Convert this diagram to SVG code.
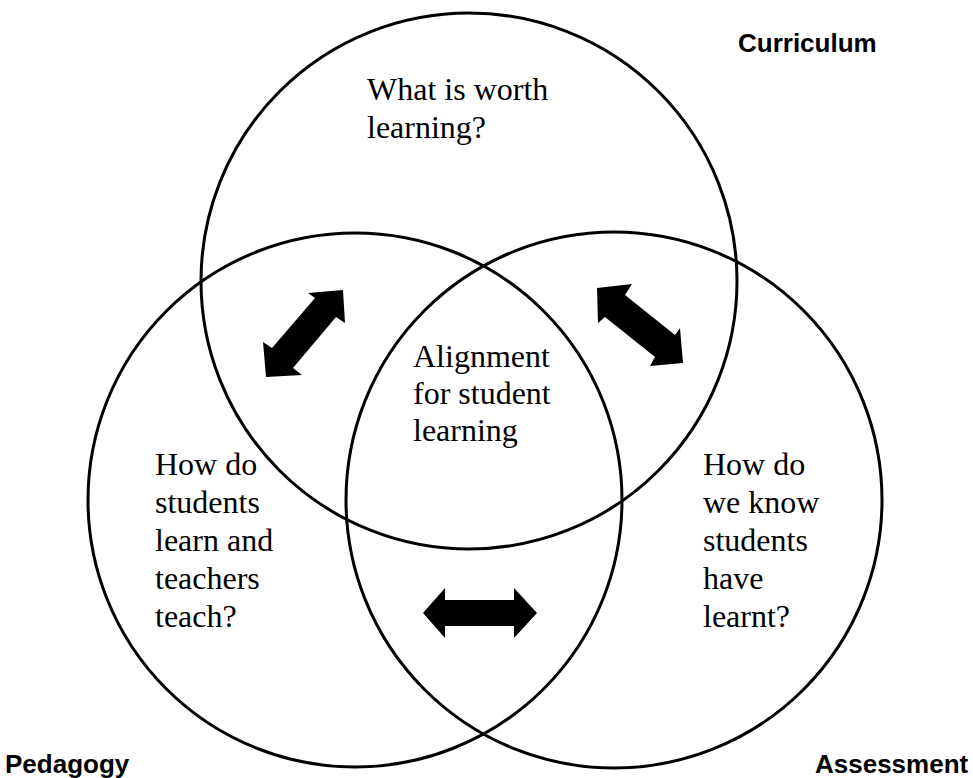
<svg xmlns="http://www.w3.org/2000/svg" width="973" height="778" viewBox="0 0 973 778">
<style>
.c{fill:none;stroke:#000;stroke-width:3}
.t{font-family:"Liberation Serif","Times New Roman",serif;font-size:32px;fill:#000}
.l{font-family:"Liberation Sans",Arial,sans-serif;font-size:26px;font-weight:bold;fill:#000}
.a{fill:#000;stroke:none}
</style>
<rect width="973" height="778" fill="#fff"/>
<g id="curriculum">
<circle class="c" cx="469" cy="281" r="268"/>
<text class="t" x="367" y="100">What is worth</text>
<text class="t" x="367" y="138">learning?</text>
<text class="l" x="738" y="52">Curriculum</text>
</g>
<g id="pedagogy">
<circle class="c" cx="355" cy="500" r="267"/>
<text class="t" x="155" y="475">How do</text>
<text class="t" x="155" y="513">students</text>
<text class="t" x="155" y="551">learn and</text>
<text class="t" x="155" y="589">teachers</text>
<text class="t" x="155" y="627">teach?</text>
<text class="l" x="5" y="773">Pedagogy</text>
</g>
<g id="assessment">
<circle class="c" cx="614" cy="500" r="268"/>
<text class="t" x="703" y="475">How do</text>
<text class="t" x="703" y="513">we know</text>
<text class="t" x="703" y="551">students</text>
<text class="t" x="703" y="589">have</text>
<text class="t" x="703" y="627">learnt?</text>
<text class="l" x="815" y="773">Assessment</text>
</g>
<g id="alignment">
<text class="t" x="413" y="367">Alignment</text>
<text class="t" x="413" y="404">for student</text>
<text class="t" x="413" y="441">learning</text>
</g>
<g id="connectors">
<polygon class="a" points="343,290 345,323 336,317 293,368 302,375 266,377 263,342 272,348 315,298 308,293"/>
<polygon class="a" points="597,288 632,284 625,295 675,335 680,328 683,363 650,366 655,357 605,317 598,323"/>
<polygon class="a" points="423,613 445,588 445,600 514,600 514,588 537,613 514,638 514,626 445,626 445,638"/>
</g>
</svg>
